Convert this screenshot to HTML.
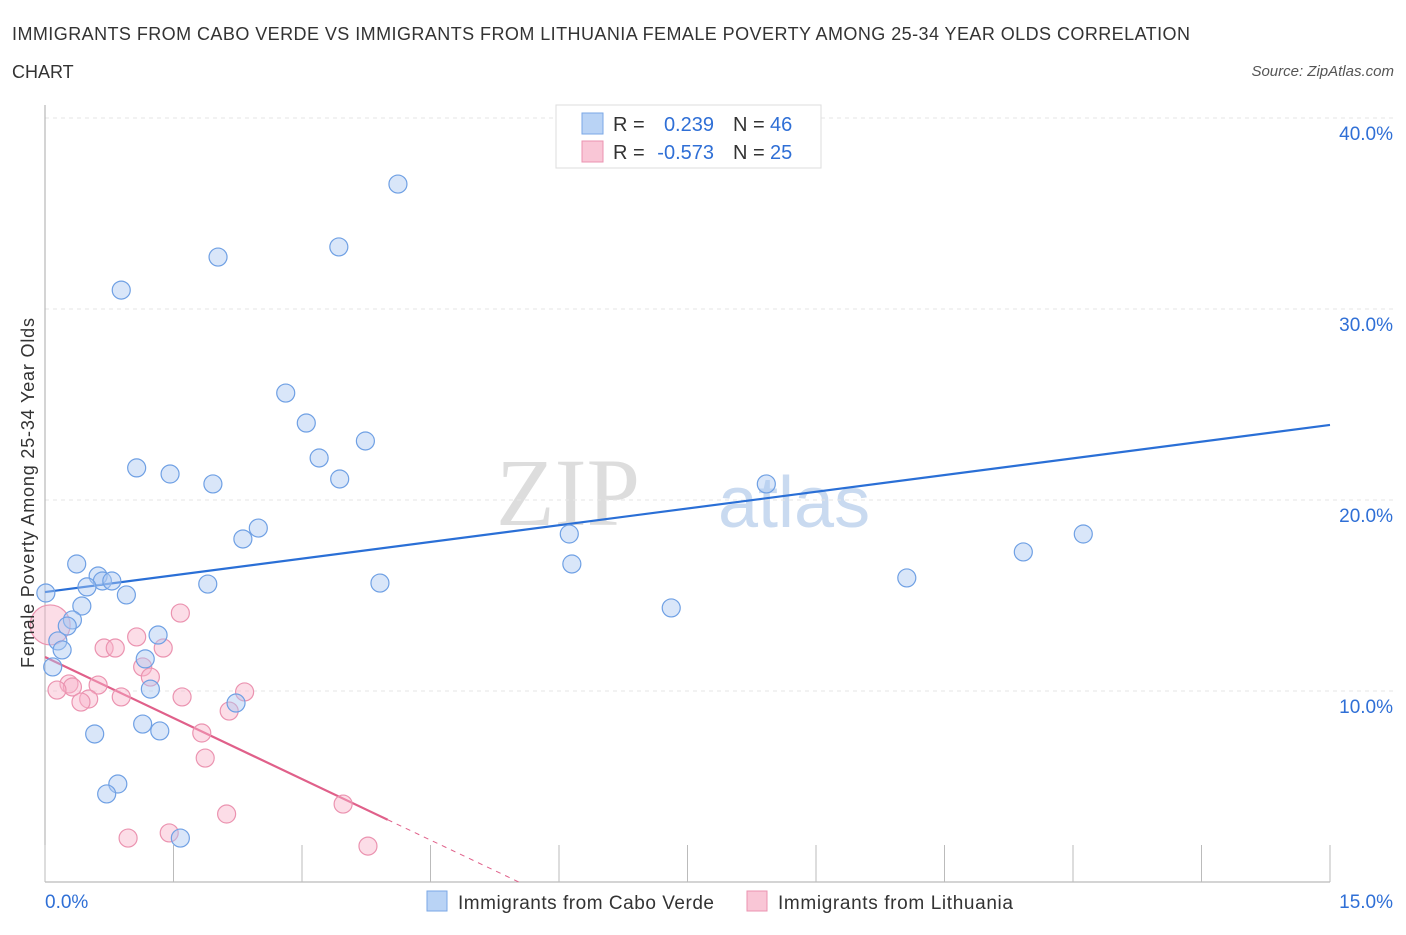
<!DOCTYPE html>
<html><head><meta charset="utf-8"><style>
body{margin:0;background:#fff;font-family:"Liberation Sans",sans-serif;}
svg text{font-family:"Liberation Sans",sans-serif;}
</style></head><body>
<svg id="c" width="1406" height="930" xmlns="http://www.w3.org/2000/svg">
<text x="12" y="40" font-size="18" fill="#333" textLength="1178" lengthAdjust="spacing">IMMIGRANTS FROM CABO VERDE VS IMMIGRANTS FROM LITHUANIA FEMALE POVERTY AMONG 25-34 YEAR OLDS CORRELATION</text>
<text x="12" y="78" font-size="18" fill="#333">CHART</text>
<text x="1394" y="76" font-size="15" fill="#555" font-style="italic" text-anchor="end">Source: ZipAtlas.com</text>
<text x="640" y="525" font-size="96" fill="#ddd" text-anchor="end" style="font-family:'Liberation Serif',serif">ZIP</text>
<text x="718" y="527" font-size="72" fill="#c9daf0">atlas</text>
<g id="grid"></g><g id="axes"></g><g id="trend"></g><g id="pts"></g>
<text transform="translate(34,493) rotate(-90)" font-size="18" fill="#333" text-anchor="middle" textLength="350" lengthAdjust="spacing">Female Poverty Among 25-34 Year Olds</text>
<g>
<rect x="556" y="105" width="265" height="63" fill="#fff" stroke="#ddd"/>
<rect x="582" y="113" width="21" height="21" fill="#b9d3f5" stroke="#7aa7e6"/>
<rect x="582" y="141" width="21" height="21" fill="#f9c6d6" stroke="#eb93b0"/>
<text x="613" y="131" font-size="20" fill="#333">R =</text><text x="714" y="131" font-size="20" fill="#2f6fd6" text-anchor="end">0.239</text>
<text x="733" y="131" font-size="20" fill="#333">N =</text><text x="770" y="131" font-size="20" fill="#2f6fd6">46</text>
<text x="613" y="159" font-size="20" fill="#333">R =</text><text x="714" y="159" font-size="20" fill="#2f6fd6" text-anchor="end">-0.573</text>
<text x="733" y="159" font-size="20" fill="#333">N =</text><text x="770" y="159" font-size="20" fill="#2f6fd6">25</text>
</g>
<g>
<rect x="427" y="891" width="20" height="20" fill="#b9d3f5" stroke="#7aa7e6"/>
<text x="458" y="909" font-size="19" fill="#333" textLength="256" lengthAdjust="spacing">Immigrants from Cabo Verde</text>
<rect x="747" y="891" width="20" height="20" fill="#f9c6d6" stroke="#eb93b0"/>
<text x="778" y="909" font-size="19" fill="#333" textLength="235" lengthAdjust="spacing">Immigrants from Lithuania</text>
</g>
</svg>
<script>
const yTicks=[10,20,30,40];
const xTickLabels=["0.0%","15.0%"];
const blueX=[4.12,3.43,2.02,0.89,2.81,3.05,3.74,3.20,1.07,1.46,3.44,1.96,8.42,2.49,2.31,6.12,12.12,11.42,0.37,6.15,0.62,10.06,0.67,0.78,0.49,3.91,1.90,0.01,0.95,0.43,7.31,0.32,0.26,1.32,0.15,0.20,1.17,0.09,1.23,2.23,1.14,1.34,0.58,0.85,0.72,1.58];
const blueY=[36.54,33.25,32.72,30.99,25.60,24.03,23.09,22.20,21.68,21.36,21.10,20.84,20.84,18.53,17.96,18.22,18.22,17.28,16.65,16.65,16.02,15.92,15.76,15.76,15.45,15.65,15.60,15.13,15.03,14.45,14.35,13.72,13.40,12.93,12.62,12.15,11.68,11.26,10.10,9.37,8.27,7.91,7.75,5.13,4.61,2.30];
const pinkX=[0.06,1.58,1.07,0.69,0.82,1.38,1.14,1.23,0.28,0.32,0.14,0.62,2.33,1.60,0.89,0.51,0.42,2.15,1.83,1.87,3.48,2.12,1.45,0.97,3.77];
const pinkY=[13.46,14.08,12.83,12.25,12.25,12.25,11.26,10.73,10.37,10.21,10.05,10.31,9.95,9.69,9.69,9.58,9.42,8.95,7.80,6.49,4.08,3.56,2.57,2.30,1.88];
const blueTrend=[15.18,23.93];
const pinkTrend=[11.78,-2.13];
const NS="http://www.w3.org/2000/svg";
const X=v=>45+v*1285/15, Y=v=>882-v*19.1;
function mk(p,t,a){const e=document.createElementNS(NS,t);for(const k in a)e.setAttribute(k,a[k]);document.getElementById(p).appendChild(e);return e;}
yTicks.forEach(t=>{
 const l=mk('grid','line',{x1:45,x2:1395,y1:Y(t),y2:Y(t),stroke:'#e6e6e6','stroke-dasharray':'4,4'});
 
 
 const tx=mk('grid','text',{x:1393,y:Y(t)+22,'font-size':19,fill:'#2f6fd6','text-anchor':'end'});tx.textContent=t.toFixed(1)+'%';
 
 
});
mk('axes','line',{x1:45,x2:45,y1:105,y2:882,stroke:'#aaa'});
mk('axes','line',{x1:45,x2:1330,y1:882,y2:882,stroke:'#aaa'});
for(let i=0;i<=10;i++){mk('axes','line',{x1:X(i*1.5),x2:X(i*1.5),y1:845,y2:882,stroke:'#bbb'});}
const a0=mk('axes','text',{x:45,y:908,'font-size':19,fill:'#2f6fd6'});a0.textContent=xTickLabels[0];

const a1=mk('axes','text',{x:1393,y:908,'font-size':19,fill:'#2f6fd6','text-anchor':'end'});a1.textContent=xTickLabels[1];

function pt(x,y,f,s,r){const c=mk('pts','circle',{cx:X(x),cy:Y(y),r:r,fill:f,stroke:s,'stroke-width':1.2});return c;}
pinkX.forEach((x,i)=>{const c=pt(x,pinkY[i],'rgba(248,180,202,0.45)','#eb93b0',i==0?20:9);
 
 });
blueX.forEach((x,i)=>{const c=pt(x,blueY[i],'rgba(170,200,242,0.45)','#6fa0e4',9);
 
 });
const bl=mk('trend','line',{x1:X(0),y1:Y(blueTrend[0]),x2:X(15),y2:Y(blueTrend[1]),stroke:'#2a6fd6','stroke-width':2.2});


const pe=4.0, pz=-pinkTrend[0]/pinkTrend[1];
const pl=mk('trend','line',{x1:X(0),y1:Y(pinkTrend[0]),x2:X(pe),y2:Y(pinkTrend[0]+pinkTrend[1]*pe),stroke:'#e0608a','stroke-width':2.2});


const pd=mk('trend','line',{x1:X(pe),y1:Y(pinkTrend[0]+pinkTrend[1]*pe),x2:X(pz),y2:Y(0),stroke:'#e0608a','stroke-width':1,'stroke-dasharray':'5,5'});


</script>
</body></html>
